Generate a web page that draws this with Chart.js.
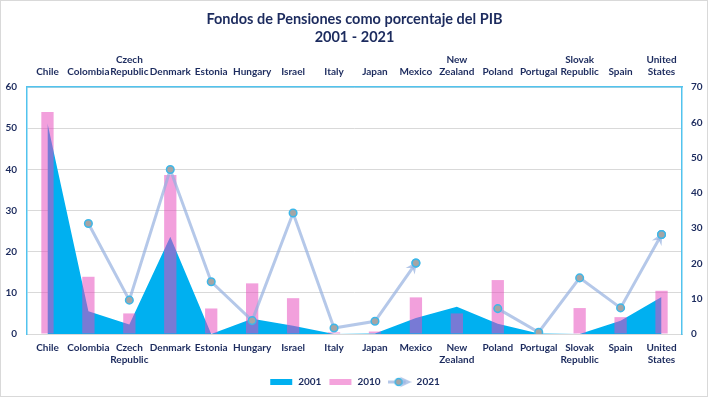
<!DOCTYPE html>
<html>
<head>
<meta charset="utf-8">
<script src="https://cdn.jsdelivr.net/npm/chart.js@4.4.0/dist/chart.umd.min.js"></script>
<style>
  html, body { margin: 0; padding: 0; background: #fff; }
  #wrap { width: 709px; height: 398px; position: relative; }
</style>
</head>
<body>
<div id="wrap"><canvas id="chart" width="709" height="398"></canvas></div>
<script>
// data
const countries = [
  ["Chile"], ["Colombia"], ["Czech", "Republic"], ["Denmark"], ["Estonia"], ["Hungary"],
  ["Israel"], ["Italy"], ["Japan"], ["Mexico"], ["New", "Zealand"], ["Poland"],
  ["Portugal"], ["Slovak", "Republic"], ["Spain"], ["United", "States"]
];
const years = ["2001", "2010", "2021"];
const values2001 = [51.2, 5.5, 2.3, 23.6, 0, 3.7, 2.0, 0, 0.1, 3.9, 6.6, 2.5, 0.1, 0, 3.2, 9.0];
const values2010 = [53.9, 13.9, 5.0, 38.6, 6.2, 12.3, 8.7, 0.4, 0.6, 8.9, 5.0, 13.1, 0, 6.3, 4.1, 10.5];
const values2021 = [null, 31.3, 9.6, 46.6, 14.8, 3.8, 34.3, 1.7, 3.6, 20.1, null, 7.2, 0.5, 15.9, 7.4, 28.2];
const leftTicks = [0, 60, 10];   // min, max, step
const rightTicks = [0, 70, 10];

const NAVY = "#1C2B5E";
const CYAN = "#52C3EE";
const GRID = "#D9D9D9";
const BLUE = "#00B0F0";
const PINK = "rgba(230, 72, 188, 0.52)";
const LINE = "rgba(150, 176, 224, 0.7)";
const FONT = "Lato, 'DejaVu Sans', sans-serif";

const PLOT_TOP = 87;
const PLOT_BOTTOM = 334;
const PAD_BOTTOM = 1;

function arrowHead(ctx, x, y, ang, color) {
  ctx.save();
  ctx.translate(x, y);
  ctx.rotate(ang);
  ctx.fillStyle = color;
  ctx.beginPath();
  ctx.moveTo(2, 0);
  ctx.lineTo(-10, -5.5);
  ctx.lineTo(-6, 0);
  ctx.lineTo(-10, 5.5);
  ctx.closePath();
  ctx.fill();
  ctx.restore();
}

// legend icons
function rectIcon(color) {
  const c = document.createElement("canvas");
  c.width = 24; c.height = 8;
  const g = c.getContext("2d");
  g.fillStyle = color;
  g.fillRect(1, 1, 22, 6);
  return c;
}
function lineIcon() {
  const c = document.createElement("canvas");
  c.width = 24; c.height = 14;
  const g = c.getContext("2d");
  g.strokeStyle = LINE;
  g.lineWidth = 3;
  g.beginPath();
  g.moveTo(0, 7); g.lineTo(18, 7);
  g.stroke();
  arrowHead(g, 22, 7, 0, LINE);
  g.fillStyle = "#A5A5A5";
  g.strokeStyle = "#3DB7E9";
  g.lineWidth = 1.5;
  g.beginPath();
  g.arc(11, 7, 3.5, 0, Math.PI * 2);
  g.fill(); g.stroke();
  return c;
}
const icons = [rectIcon(BLUE), rectIcon("#F4A3DC"), lineIcon()];

// white background + thin gray frame
const framePlugin = {
  id: "frame",
  beforeDraw(chart) {
    const ctx = chart.ctx;
    ctx.save();
    ctx.fillStyle = "#fff";
    ctx.fillRect(0, 0, chart.width, chart.height);
    ctx.strokeStyle = GRID;
    ctx.lineWidth = 1;
    ctx.strokeRect(0.5, 0.5, chart.width - 2, chart.height - 2);
    ctx.restore();
  }
};

// arrow at the end of every segment of the 2021 line
const arrowPlugin = {
  id: "arrows",
  afterDatasetDraw(chart, args) {
    if (args.index !== 0) return;
    const data = chart.data.datasets[0].data;
    const pts = args.meta.data;
    const ctx = chart.ctx;
    for (let i = 1; i < data.length; i++) {
      if (data[i] == null || data[i - 1] == null) continue;
      if (i < data.length - 1 && data[i + 1] != null) continue;
      const p = pts[i], q = pts[i - 1];
      arrowHead(ctx, p.x, p.y, Math.atan2(p.y - q.y, p.x - q.x), LINE);
      p.draw(ctx, chart.chartArea);
    }
  }
};

const tickFont = { family: FONT, size: 10, weight: "bold" };

new Chart(document.getElementById("chart"), {
  data: {
    labels: countries,
    datasets: [
      {
        type: "line",
        label: years[2],
        data: values2021,
        yAxisID: "y2",
        order: 1,
        borderColor: LINE,
        borderWidth: 3,
        tension: 0,
        spanGaps: false,
        pointRadius: 3.8,
        pointBackgroundColor: "#A5A5A5",
        pointBorderColor: "#3DB7E9",
        pointBorderWidth: 1.5
      },
      {
        type: "bar",
        label: years[1],
        data: values2010,
        yAxisID: "y",
        order: 2,
        backgroundColor: PINK,
        barPercentage: 0.3,
        categoryPercentage: 1
      },
      {
        type: "line",
        label: years[0],
        data: values2001,
        yAxisID: "y",
        order: 3,
        fill: "origin",
        backgroundColor: BLUE,
        borderWidth: 0,
        pointRadius: 0,
        tension: 0
      }
    ]
  },
  options: {
    responsive: false,
    animation: false,
    layout: { padding: { left: 0, right: 0, top: 0, bottom: PAD_BOTTOM } },
    plugins: {
      title: {
        display: true,
        text: ["Fondos de Pensiones como porcentaje del PIB", "2001 - 2021"],
        color: NAVY,
        font: { family: FONT, size: 14.5, weight: "bold", lineHeight: 1.27 },
        padding: { top: 10, bottom: 0 }
      },
      legend: {
        position: "bottom",
        labels: {
          color: NAVY,
          font: { family: FONT, size: 10, weight: "bold" },
          usePointStyle: true,
          pointStyleWidth: 24,
          padding: 7,
          generateLabels: () => years.map((y, i) => ({
            text: y,
            pointStyle: icons[i],
            fillStyle: "transparent",
            strokeStyle: "transparent",
            lineWidth: 0,
            fontColor: NAVY,
            datasetIndex: 2 - i
          }))
        }
      },
      tooltip: { enabled: false }
    },
    scales: {
      x: {
        position: "bottom",
        offset: true,
        grid: { display: false, drawTicks: false },
        border: { color: GRID, width: 1 },
        ticks: { color: NAVY, font: tickFont, autoSkip: false, maxRotation: 0, padding: 8 },
        afterFit: s => { s.height = s.chart.height - PAD_BOTTOM - s.chart.legend.height - PLOT_BOTTOM; }
      },
      x2: {
        type: "category",
        position: "top",
        labels: countries,
        offset: true,
        grid: { display: false, drawTicks: false },
        border: { color: CYAN, width: 1.5 },
        ticks: { color: NAVY, font: tickFont, autoSkip: false, maxRotation: 0, padding: 9 },
        afterFit: s => { s.height = PLOT_TOP - s.chart.titleBlock.height; }
      },
      y: {
        position: "left",
        min: leftTicks[0],
        max: leftTicks[1],
        grid: { color: GRID, lineWidth: 1, drawTicks: false },
        border: { color: CYAN, width: 1.5 },
        ticks: { stepSize: leftTicks[2], color: NAVY, font: tickFont, padding: 10 },
        afterFit: s => { s.width = 27; }
      },
      y2: {
        position: "right",
        min: rightTicks[0],
        max: rightTicks[1],
        grid: { display: false, drawTicks: false },
        border: { color: CYAN, width: 1.5 },
        ticks: { stepSize: rightTicks[2], color: NAVY, font: tickFont, padding: 9 },
        afterFit: s => { s.width = 27; }
      }
    }
  },
  plugins: [framePlugin, arrowPlugin]
});
</script>
</body>
</html>
